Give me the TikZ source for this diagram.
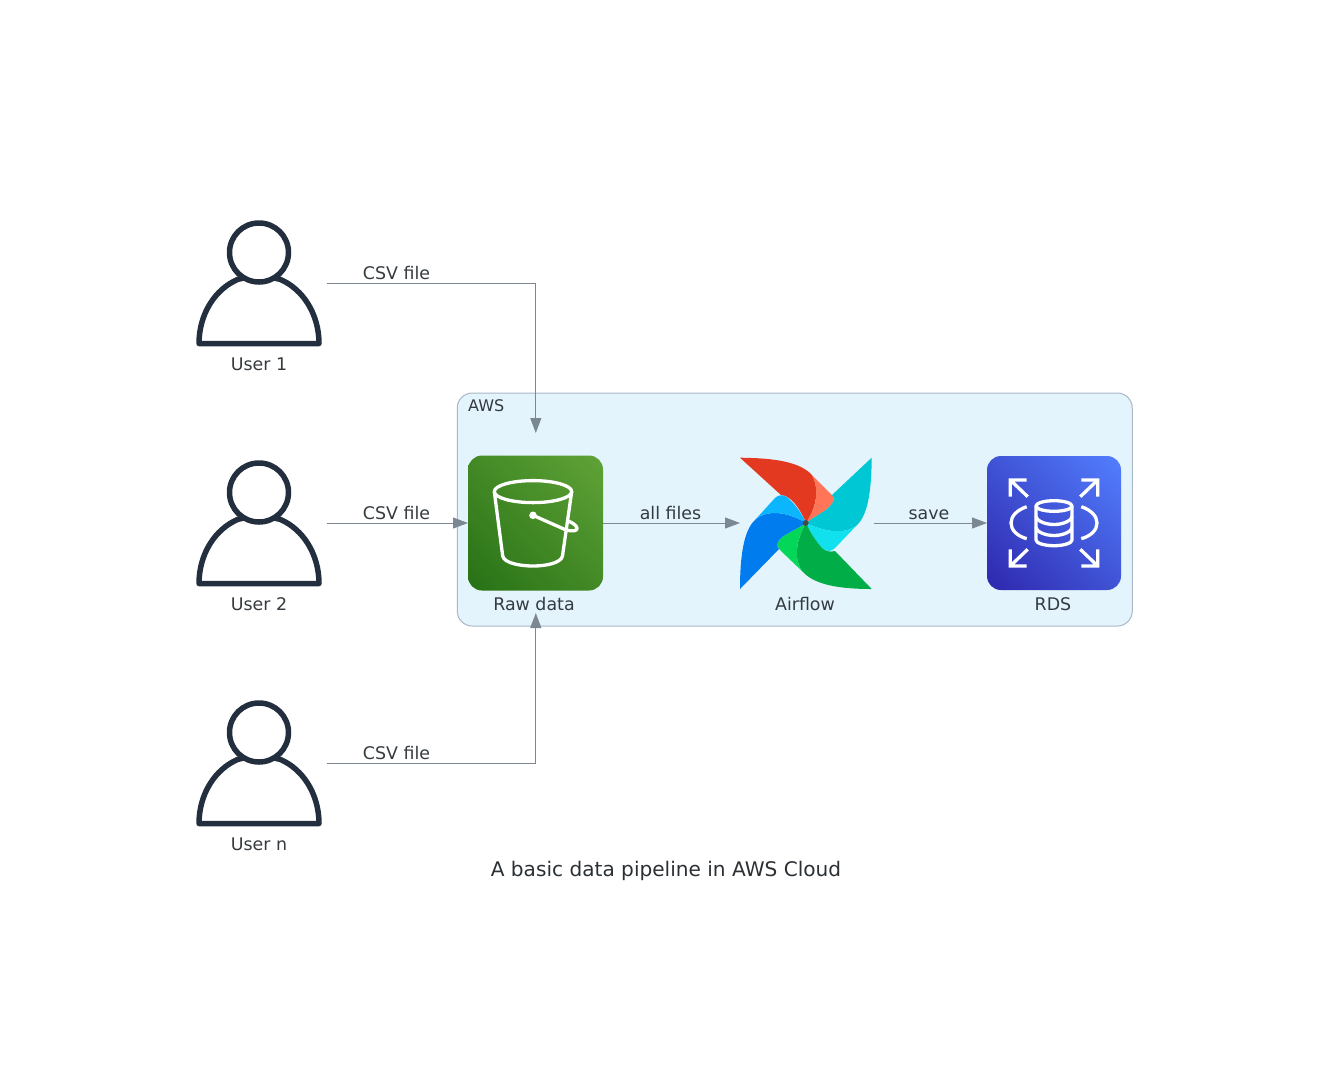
\documentclass[tikz,border=0pt]{standalone}
\usepackage{fontspec}
\setmainfont{DejaVu Sans}
\usetikzlibrary{arrows.meta,shadings}
\definecolor{inkc}{HTML}{343B40}
\definecolor{titlec}{HTML}{2B3035}
\definecolor{wirec}{HTML}{7B8894}
\definecolor{userc}{HTML}{232F3E}
\definecolor{clusterf}{HTML}{E3F4FD}
\definecolor{clusterd}{HTML}{A9B8C6}
\definecolor{s3low}{HTML}{277116}
\definecolor{s3mid}{HTML}{438A26}
\definecolor{s3high}{HTML}{60A337}
\definecolor{rdslow}{HTML}{2E27AD}
\definecolor{rdsmid}{HTML}{4053D6}
\definecolor{rdshigh}{HTML}{527FFF}
\definecolor{afred}{HTML}{E43921}
\definecolor{aforange}{HTML}{FF7557}
\definecolor{afcyan}{HTML}{00C7D4}
\definecolor{aflcyan}{HTML}{11E1EE}
\definecolor{afgreen}{HTML}{00AD46}
\definecolor{aflgreen}{HTML}{04D659}
\definecolor{afblue}{HTML}{017CEE}
\definecolor{aflblue}{HTML}{0CB6FF}
\definecolor{afhub}{HTML}{4A4848}
\tikzset{
  lbl/.style={anchor=base,text=inkc,font=\fontsize{17.4}{17.4}\selectfont,inner sep=0pt},
  grouplbl/.style={anchor=base west,text=inkc,font=\fontsize{16}{16}\selectfont,inner sep=0pt},
  ttl/.style={anchor=base,text=titlec,font=\fontsize{20.1}{20.1}\selectfont,inner sep=0pt},
  wire/.style={draw=wirec,line width=1pt,-{Triangle[length=15pt,width=11pt]}},
  anchorbox/.style={minimum width=136pt,minimum height=136pt,inner sep=0pt,outer sep=0pt},
  iconbox/.style={minimum width=135pt,minimum height=135pt,inner sep=0pt,outer sep=0pt,rounded corners=14pt},
  whiteline/.style={draw=white,line width=3.3pt,line cap=round,line join=round},
  userline/.style={draw=userc,line width=5.5pt,line join=round}
}
\newcommand{\usericon}[1]{%
  \begin{scope}[shift={(0,#1)}]
    \draw[userline] (244,278) -- (238,279.3) .. controls (214.6,289.2) and (199,314.6) .. (199,343.5) -- (319,343.5) .. controls (319,314.6) and (303.4,289.2) .. (280,279.3) -- (274,278);
    \draw[userline] (259,252.5) circle[radius=29.5pt];
  \end{scope}}
\begin{document}
\begin{tikzpicture}[x=1pt,y=-1pt]
\useasboundingbox (0,0) rectangle (1335,1080);
% cluster
\node[draw=clusterd,fill=clusterf,line width=1pt,rounded corners=15pt,minimum width=675pt,minimum height=233pt,inner sep=0pt,outer sep=0pt] (aws) at (794.75,509.5) {};
\node[grouplbl] (awslabel) at (468,411) {AWS};
% users
\node[anchorbox] (u1) at (259,283) {};
\node[anchorbox] (u2) at (259,523) {};
\node[anchorbox] (u3) at (259,763) {};
\usericon{0}\usericon{240}\usericon{480}
\node[lbl] (u1l) at (259,370) {User 1};
\node[lbl] (u2l) at (259,610) {User 2};
\node[lbl] (u3l) at (259,850) {User n};
% S3
\node[iconbox,shade,lower left=s3low,upper right=s3high,upper left=s3mid,lower right=s3mid] (s3) at (535.5,523) {};
% bucket
\draw[whiteline] (533,491.6) ellipse[x radius=38.7pt,y radius=11pt];
\draw[whiteline] (494.3,491.6) -- (502.7,556) .. controls (504,563) and (520,566) .. (533,566) .. controls (546,566) and (561,563) .. (562.5,556) -- (571.7,491.6);
\draw[whiteline] (533,515.3) -- (565,529.5) .. controls (572,532) and (578,531) .. (577,528) .. controls (576.5,525) and (571,522) .. (568,521);
\fill[white] (533,515.3) circle[radius=3.8pt];
% Airflow
\node[minimum width=134pt,minimum height=134pt,inner sep=0pt,outer sep=0pt] (af) at (807,523) {};
\fill[fill=afred] (740,457.7) .. controls (775,458) and (800,462) .. (812,475) .. controls (820,490) and (816,508) .. (806,523) .. controls (800,508) and (790,495) .. (781,495) -- cycle;
\fill[fill=aforange] (812,475) -- (832,495) .. controls (835,498) and (834,502) .. (830,506) .. controls (825,512) and (815,516) .. (806,523) .. controls (816,508) and (820,490) .. (812,475) -- cycle;
\fill[fill=afcyan] (871.7,457.7) .. controls (871.5,490) and (868,515) .. (857,525) .. controls (845,535) and (825,532) .. (806,523) .. controls (815,516) and (825,512) .. (830,506) .. controls (834,502) and (835,498) .. (832,495) -- cycle;
\fill[fill=aflcyan] (806,523) .. controls (825,532) and (845,535) .. (857,525) -- (835,548) .. controls (831,552) and (826,552) .. (822,548) .. controls (815,540) and (810,532) .. (806,523) -- cycle;
\fill[fill=afgreen] (871.7,589) .. controls (840,589) and (815,585) .. (803,572) .. controls (793,560) and (796,540) .. (806,523) .. controls (810,532) and (815,540) .. (822,548) .. controls (826,552) and (831,552) .. (835,551) -- cycle;
\fill[fill=aflgreen] (806,523) .. controls (796,540) and (793,560) .. (803,572) -- (780,550) .. controls (776,546) and (777,541) .. (782,537) .. controls (790,532) and (798,528) .. (806,523) -- cycle;
\fill[fill=afblue] (740,589) .. controls (740,555) and (744,530) .. (755,520) .. controls (768,508) and (790,513) .. (806,523) .. controls (798,528) and (790,532) .. (782,537) .. controls (777,541) and (776,546) .. (779,549) -- cycle;
\fill[fill=aflblue] (806,523) .. controls (790,513) and (768,508) .. (755,520) -- (775,498) .. controls (778,495) and (783,494) .. (787,497) .. controls (795,504) and (801,512) .. (806,523) -- cycle;
\fill[afhub] (805.7,523) circle[radius=3pt];
% RDS
\node[iconbox,minimum width=134pt,minimum height=134pt,shade,lower left=rdslow,upper right=rdshigh,upper left=rdsmid,lower right=rdsmid] (rds) at (1054,523) {};
\draw[whiteline,line cap=butt,line join=miter]
  (1026.7,480) -- (1010.3,480) -- (1010.3,496.7) (1010.3,480) -- (1027.7,496.7)
  (1081.3,480) -- (1097.7,480) -- (1097.7,496.7) (1097.7,480) -- (1080.3,496.7)
  (1026.7,566) -- (1010.3,566) -- (1010.3,549.3) (1010.3,566) -- (1027.7,549.3)
  (1081.3,566) -- (1097.7,566) -- (1097.7,549.3) (1097.7,566) -- (1080.3,549.3);
\draw[whiteline,line cap=butt] (1026.7,506.7) .. controls (1017,510) and (1011,516) .. (1011,523) .. controls (1011,530) and (1017,536) .. (1026.7,538.7);
\draw[whiteline,line cap=butt] (1081.3,506.7) .. controls (1091,510) and (1097,516) .. (1097,523) .. controls (1097,530) and (1091,536) .. (1081.3,538.7);
\draw[whiteline] (1054,506) ellipse[x radius=18pt,y radius=5.3pt];
\draw[whiteline] (1036,506) -- (1036,540) .. controls (1036,543) and (1044,545.7) .. (1054,545.7) .. controls (1064,545.7) and (1072,543) .. (1072,540) -- (1072,506);
\draw[whiteline] (1036,516.5) .. controls (1036,520) and (1044,524.5) .. (1054,524.5) .. controls (1064,524.5) and (1072,520) .. (1072,516.5);
\draw[whiteline] (1036,527.5) .. controls (1036,531) and (1044,535.5) .. (1054,535.5) .. controls (1064,535.5) and (1072,531) .. (1072,527.5);
% labels
\node[lbl] (s3l) at (534,610) {Raw data};
\node[lbl] (afl) at (805,610) {Airflow};
\node[lbl] (rdsl) at (1053,610) {RDS};
% connectors
\coordinate (e1) at (535.8,433);
\coordinate (e3) at (535.8,613);
\draw[wire] (u1.east) -| (e1);
\draw[wire] (u2.east) -- (s3.west);
\draw[wire] (u3.east) -| (e3);
\draw[wire] (s3.east) -- (af.west);
\draw[wire] (af.east) -- (rds.west);
\node[lbl] (c1) at (396.5,279) {CSV file};
\node[lbl] (c2) at (396.5,519) {CSV file};
\node[lbl] (c3) at (396.5,759) {CSV file};
\node[lbl] (c4) at (670.5,519) {all files};
\node[lbl] (c5) at (929,519) {save};
\node[ttl] (title) at (666,876) {A basic data pipeline in AWS Cloud};
\end{tikzpicture}
\end{document}
